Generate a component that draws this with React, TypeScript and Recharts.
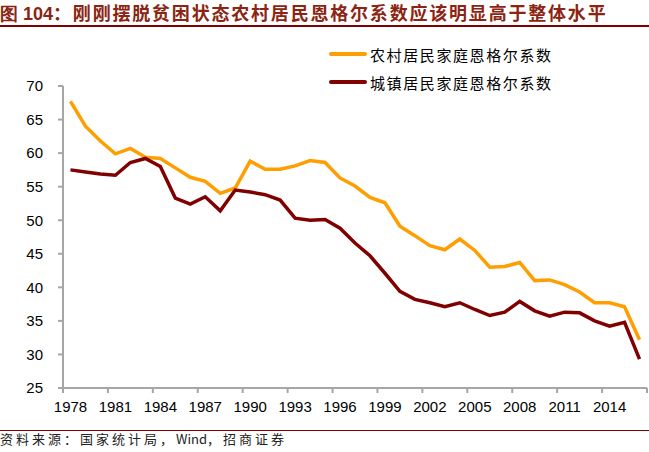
import { Legend, Line, LineChart, XAxis, YAxis } from 'recharts'

const years = [
  1978, 1979, 1980, 1981, 1982, 1983, 1984, 1985, 1986, 1987, 1988, 1989, 1990,
  1991, 1992, 1993, 1994, 1995, 1996, 1997, 1998, 1999, 2000, 2001, 2002, 2003,
  2004, 2005, 2006, 2007, 2008, 2009, 2010, 2011, 2012, 2013, 2014, 2015, 2016,
]

// 农村居民家庭恩格尔系数
const rural = [
  67.7, 64.0, 61.8, 59.9, 60.7, 59.4, 59.2, 57.8, 56.4, 55.8, 54.0, 54.8, 58.8,
  57.6, 57.6, 58.1, 58.9, 58.6, 56.3, 55.1, 53.4, 52.6, 49.1, 47.7, 46.2, 45.6,
  47.2, 45.5, 43.0, 43.1, 43.7, 41.0, 41.1, 40.4, 39.3, 37.7, 37.7, 37.1, 32.2,
]

// 城镇居民家庭恩格尔系数
const urban = [
  57.5, 57.2, 56.9, 56.7, 58.6, 59.2, 58.0, 53.3, 52.4, 53.5, 51.4, 54.5, 54.2,
  53.8, 53.0, 50.3, 50.0, 50.1, 48.8, 46.6, 44.7, 42.1, 39.4, 38.2, 37.7, 37.1,
  37.7, 36.7, 35.8, 36.3, 37.9, 36.5, 35.7, 36.3, 36.2, 35.0, 34.2, 34.8, 29.3,
]

// tick marks sit between categories, labels every third year
const xTicks = [
  1977.5, 1980.5, 1983.5, 1986.5, 1989.5, 1992.5, 1995.5, 1998.5, 2001.5,
  2004.5, 2007.5, 2010.5, 2013.5, 2016.5,
]
const yTicks = [25, 30, 35, 40, 45, 50, 55, 60, 65, 70]

const data = years.map((year, i) => ({ year, rural: rural[i], urban: urban[i] }))

const AXIS = '#a6a6a6'
const TITLE = '#8b2412'
const RULE = '#7f0000'

function XTick({ x, y, payload }: any) {
  if (payload.value > 2015) return null
  return (
    <text
      x={x + 7.5}
      y={y}
      dy="0.71em"
      textAnchor="middle"
      fill="#000"
      fontSize={15}
      fontFamily="Liberation Sans, Arial, sans-serif"
    >
      {payload.value + 0.5}
    </text>
  )
}

function LegendBox({ payload }: any) {
  return (
    <div>
      {payload.map((p: any) => (
        <div
          key={p.value}
          style={{ display: 'flex', alignItems: 'center', height: 28 }}
        >
          <span
            style={{
              width: 38,
              height: 4,
              borderRadius: 2,
              background: p.color,
              marginRight: 3,
            }}
          />
          <span
            style={{
              fontSize: 15,
              letterSpacing: 1.6,
              color: '#000',
              fontFamily: 'Noto Sans CJK SC, sans-serif',
            }}
          >
            {p.value}
          </span>
        </div>
      ))}
    </div>
  )
}

export default function App() {
  return (
    <div
      style={{
        position: 'absolute',
        left: 0,
        top: 0,
        width: 649,
        height: 452,
        background: '#fff',
        overflow: 'hidden',
      }}
    >
      <div
        style={{
          position: 'absolute',
          left: 0,
          top: 1,
          whiteSpace: 'nowrap',
          fontWeight: 'bold',
          fontSize: 18,
          lineHeight: '22px',
          color: TITLE,
          fontFamily: 'Noto Sans CJK SC, sans-serif',
          letterSpacing: 1.8,
        }}
      >
        <span style={{ fontFamily: 'Liberation Sans, Arial, sans-serif', letterSpacing: 0 }}>
          图 104
        </span>
        ：刚刚摆脱贫困状态农村居民恩格尔系数应该明显高于整体水平
      </div>
      <div
        style={{
          position: 'absolute',
          left: 0,
          top: 25,
          width: 649,
          height: 2,
          background: RULE,
        }}
      />

      <LineChart
        width={649}
        height={452}
        data={data}
        margin={{ top: 86, right: 2, bottom: 34, left: 0 }}
      >
        <XAxis
          dataKey="year"
          type="number"
          domain={[1977.5, 2016.5]}
          ticks={xTicks}
          interval={0}
          height={30}
          tick={<XTick />}
          tickSize={5}
          tickMargin={8}
          stroke={AXIS}
          strokeWidth={2}
        />
        <YAxis
          domain={[25, 70]}
          ticks={yTicks}
          interval={0}
          width={63}
          tickSize={5}
          tickMargin={15}
          stroke={AXIS}
          strokeWidth={2}
          tick={{
            fill: '#000',
            fontSize: 15,
            fontFamily: 'Liberation Sans, Arial, sans-serif',
          }}
        />
        <Legend
          layout="vertical"
          verticalAlign="middle"
          align="center"
          content={<LegendBox />}
          wrapperStyle={{ left: 329, top: 40, width: 300 }}
        />
        <Line
          dataKey="rural"
          name="农村居民家庭恩格尔系数"
          stroke="#ff9e00"
          strokeWidth={3.5}
          dot={false}
          isAnimationActive={false}
        />
        <Line
          dataKey="urban"
          name="城镇居民家庭恩格尔系数"
          stroke="#800000"
          strokeWidth={3.5}
          dot={false}
          isAnimationActive={false}
        />
      </LineChart>

      <div
        style={{
          position: 'absolute',
          left: 0,
          top: 430,
          width: 649,
          height: 1,
          background: RULE,
        }}
      />
      <div
        style={{
          position: 'absolute',
          left: 0,
          top: 431,
          fontSize: 13,
          letterSpacing: 3,
          lineHeight: '16px',
          color: '#222',
          whiteSpace: 'nowrap',
          fontFamily: 'Noto Sans CJK SC, sans-serif',
        }}
      >
        资料来源：国家统计局，<span style={{ letterSpacing: 0 }}>Wind</span>，招商证券
      </div>
    </div>
  )
}
